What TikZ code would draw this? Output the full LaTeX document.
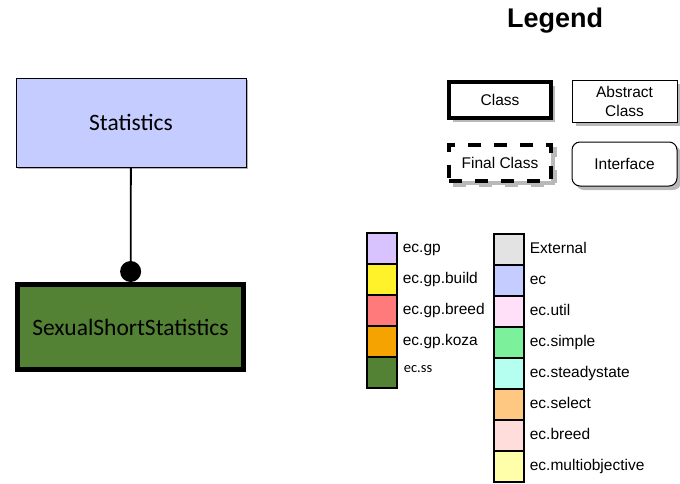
\documentclass[tikz,border=0pt]{standalone}
\usepackage{fontspec}
\setmainfont{Carlito}
\newfontfamily\arialfont{Liberation Sans}
\usetikzlibrary{positioning, arrows.meta, shadows}

\definecolor{ecblue}{HTML}{C5CCFF}
\definecolor{ssgreen}{HTML}{548235}
\definecolor{gplav}{HTML}{D9C3FF}
\definecolor{gpbuild}{HTML}{FFF22A}
\definecolor{gpbreed}{HTML}{FF7A7A}
\definecolor{gpkoza}{HTML}{F5A300}
\definecolor{extgray}{HTML}{E3E3E3}
\definecolor{ecutil}{HTML}{FFE0F8}
\definecolor{ecsimple}{HTML}{7CF09A}
\definecolor{ecsteady}{HTML}{B5FFF0}
\definecolor{ecselect}{HTML}{FFC882}
\definecolor{ecbreed}{HTML}{FFDDDA}
\definecolor{ecmulti}{HTML}{FFFFAA}

\begin{document}
\begin{tikzpicture}[
            x=1pt, y=-1pt, % pixel grid, y downwards
            class_box/.style={rectangle, draw, inner sep=0pt, font=\fontsize{23.5}{28}\selectfont},
            legend_box/.style={rectangle, draw, inner sep=0pt, fill=white, align=center,
                    font=\arialfont\fontsize{15.5}{19}\selectfont,
                    drop shadow={shadow xshift=4pt, shadow yshift=-4pt, opacity=1, fill=gray!55}},
            swatch/.style={rectangle, draw, line width=1.3pt, minimum width=30pt, minimum height=31pt, inner sep=0pt},
            swatch_label/.style={right=5pt of #1, inner sep=0pt, text height=11pt, text depth=3pt,
                    font=\arialfont\fontsize{15.5}{18}\selectfont},
            uses_edge/.style={-{Circle[length=21pt]}, line width=1.8pt}
        ]
        \useasboundingbox (0,0) rectangle (680,483);

        % Class diagram
        \node[class_box, fill=ecblue, line width=0.8pt, minimum width=230pt, minimum height=89pt,
              drop shadow={shadow xshift=2pt, shadow yshift=-2pt, opacity=1, fill=gray!60}]
              (stats) at (131,122.5) {Statistics};
        \node[class_box, fill=ssgreen, line width=5pt, minimum width=226pt, minimum height=85pt,
              drop shadow={shadow xshift=2pt, shadow yshift=-2pt, opacity=1, fill=gray!60}]
              (sss) at (130.5,327) {SexualShortStatistics};
        \draw[uses_edge] (stats) -- (sss);

        % Legend
        \node[font=\arialfont\bfseries\fontsize{27}{32}\selectfont] (legend) at (555,21) {Legend};

        \node[legend_box, line width=4pt, minimum width=102pt, minimum height=36pt] (cls) at (500,100) {Class};
        \node[legend_box, line width=1pt, minimum width=105pt, minimum height=42pt] (abs) at (624.5,101) {Abstract\\Class};
        \node[legend_box, line width=4pt, dash pattern=on 13pt off 13pt, minimum width=102pt, minimum height=36pt,
              drop shadow={shadow xshift=4pt, shadow yshift=-4pt, opacity=1, fill=none, draw=gray!55,
                  line width=4pt, dash pattern=on 13pt off 13pt}] (fin) at (500,163) {Final Class};
        \node[legend_box, line width=1pt, rounded corners=8pt, minimum width=105pt, minimum height=44pt] (intf) at (624.5,164) {Interface};

        % Package colours, left column
        \foreach \col/\txt [count=\i] in {gplav/ec.gp, gpbuild/ec.gp.build, gpbreed/ec.gp.breed, gpkoza/ec.gp.koza} {
                \node[swatch, fill=\col] (pl\i) at (382, 233+31*\i-15.5) {};
                \node[swatch_label=pl\i] (tl\i) {\txt};
            }
        \node[swatch, fill=ssgreen] (pl5) at (382,372.5) {};
        \node[right=6pt of pl5.north east, anchor=north west, inner sep=0pt, yshift=-9pt,
              font=\fontsize{14.5}{16}\selectfont] (tl5) {ec.ss};

        % Package colours, right column
        \foreach \col/\txt [count=\i] in {extgray/External, ecblue/ec, ecutil/ec.util, ecsimple/ec.simple,
                ecsteady/ec.steadystate, ecselect/ec.select, ecbreed/ec.breed, ecmulti/ec.multiobjective} {
                \node[swatch, fill=\col] (pr\i) at (509, 234+31*\i-15.5) {};
                \node[swatch_label=pr\i] (tr\i) {\txt};
            }

    \end{tikzpicture}
\end{document}
